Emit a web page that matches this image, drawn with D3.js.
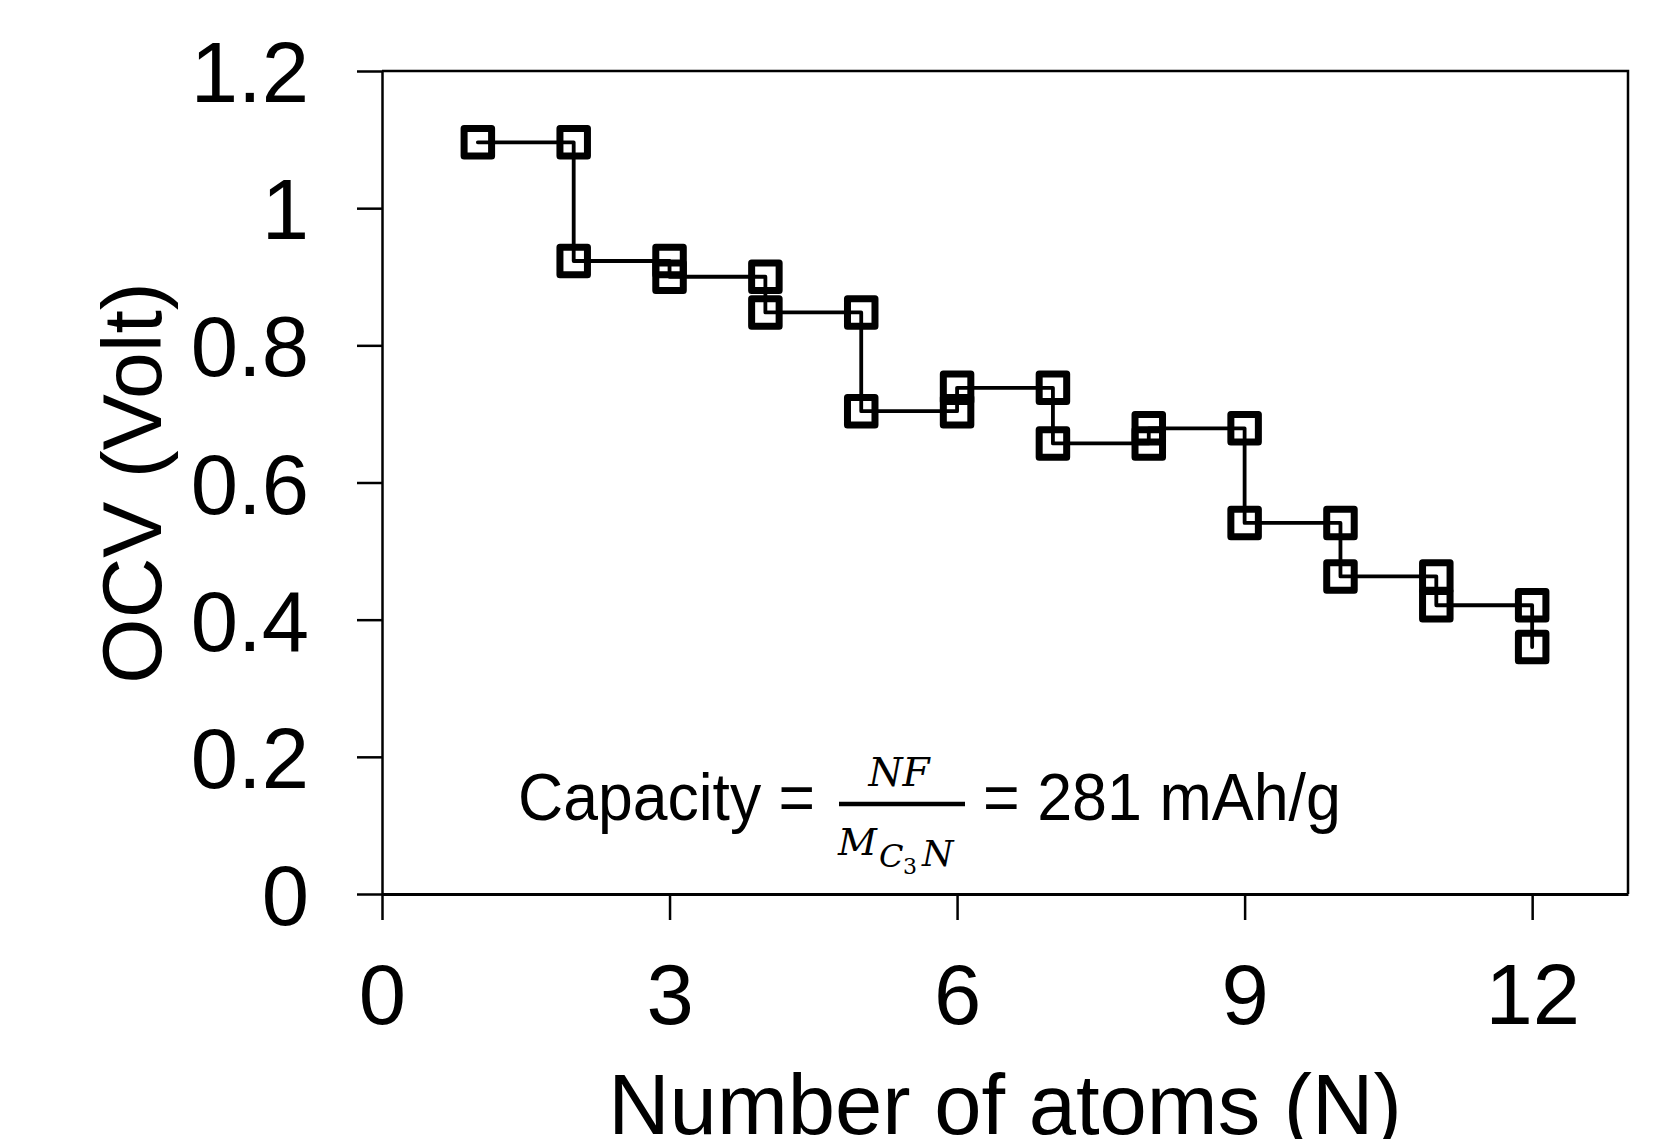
<!DOCTYPE html>
<html>
<head>
<meta charset="utf-8">
<script src="https://cdn.jsdelivr.net/npm/d3@7"></script>
<style>
  html, body { margin: 0; padding: 0; background: #fff; }
  svg { display: block; }
</style>
</head>
<body>
<div id="chart"></div>
<script>
// step data: each N has the voltage before and after the next atom is added
const atomsN = [1, 2, 2, 3, 3, 4, 4, 5, 5, 6, 6, 7, 7, 8, 8, 9, 9, 10, 10, 11, 11, 12, 12];
const ocv = [1.096, 1.096, 0.923, 0.923, 0.900, 0.900, 0.848, 0.848, 0.704, 0.704,
  0.738, 0.738, 0.657, 0.657, 0.679, 0.679, 0.541, 0.541, 0.463, 0.463, 0.421, 0.421, 0.360];

const xTicks = [0, 3, 6, 9, 12];
const yTicks = [0, 0.2, 0.4, 0.6, 0.8, 1, 1.2];
const xDomain = [0, 13];
const yDomain = [0, 1.2];

const width = 1669;
const height = 1139;
const margin = { top: 71, right: 41, bottom: 245, left: 382 };
const sans = 'Liberation Sans, Arial, sans-serif';
const mathFont = 'DejaVu Serif, serif';

const svg = d3.select('#chart')
  .append('svg')
  .attr('width', width)
  .attr('height', height)
  .attr('viewBox', `0 0 ${width} ${height}`);

const x = d3.scaleLinear()
  .domain(xDomain)
  .range([margin.left, width - margin.right]);

const y = d3.scaleLinear()
  .domain(yDomain)
  .range([height - margin.bottom, margin.top]);

// frame (top and right)
svg.append('path')
  .attr('d', `M${x(xDomain[0])},${y(yDomain[1])}H${x(xDomain[1])}V${y(yDomain[0])}`)
  .attr('fill', 'none')
  .attr('stroke', '#000')
  .attr('stroke-width', 2.5);

// x axis
const xAxis = svg.append('g')
  .attr('transform', `translate(0,${y(0)})`)
  .call(d3.axisBottom(x).tickValues(xTicks).tickSize(26).tickSizeOuter(0).tickFormat(d => d));

xAxis.select('.domain').attr('stroke-width', 3.2);
xAxis.selectAll('.tick line').attr('stroke-width', 2.5);
xAxis.selectAll('.tick text')
  .attr('y', 130)
  .attr('dy', 0)
  .attr('font-family', sans)
  .attr('font-size', 85)
  .attr('fill', '#000');

// y axis
const yAxis = svg.append('g')
  .attr('transform', `translate(${x(0)},0)`)
  .call(d3.axisLeft(y).tickValues(yTicks).tickSize(25).tickSizeOuter(0).tickFormat(d => d));

yAxis.select('.domain').attr('stroke-width', 2.5);
yAxis.selectAll('.tick line').attr('stroke-width', 2.5);
yAxis.selectAll('.tick text')
  .attr('x', -73)
  .attr('dy', '0.36em')
  .attr('font-family', sans)
  .attr('font-size', 85)
  .attr('fill', '#000');

svg.selectAll('.domain, .tick line').attr('stroke', '#000');

// axis titles (the x title runs off the bottom edge, as in the source figure)
svg.append('text')
  .attr('x', (x(xDomain[0]) + x(xDomain[1])) / 2)
  .attr('y', 1134)
  .attr('text-anchor', 'middle')
  .attr('font-family', sans)
  .attr('font-size', 85)
  .attr('fill', '#000')
  .text('Number of atoms (N)');

svg.append('text')
  .attr('transform', `translate(161,483) rotate(-90)`)
  .attr('text-anchor', 'middle')
  .attr('font-family', sans)
  .attr('font-size', 84)
  .attr('fill', '#000')
  .text('OCV (Volt)');

// step line
const points = atomsN.map((n, i) => ({ n, v: ocv[i] }));

svg.append('path')
  .datum(points)
  .attr('d', d3.line().x(d => x(d.n)).y(d => y(d.v)))
  .attr('fill', 'none')
  .attr('stroke', '#000')
  .attr('stroke-width', 3.8)
  .attr('stroke-linejoin', 'round')
  .attr('stroke-linecap', 'round');

// hollow square markers
const side = 27.5;
svg.append('g')
  .selectAll('rect')
  .data(points)
  .join('rect')
  .attr('x', d => x(d.n) - side / 2)
  .attr('y', d => y(d.v) - side / 2)
  .attr('width', side)
  .attr('height', side)
  .attr('fill', 'none')
  .attr('stroke', '#000')
  .attr('stroke-width', 7)
  .attr('stroke-linejoin', 'round');

// capacity formula
const formula = svg.append('g');

formula.append('text')
  .attr('x', 518)
  .attr('y', 820)
  .attr('font-family', sans)
  .attr('font-size', 67)
  .attr('textLength', 297)
  .attr('lengthAdjust', 'spacingAndGlyphs')
  .text('Capacity =');

formula.append('line')
  .attr('x1', 839)
  .attr('x2', 965)
  .attr('y1', 804)
  .attr('y2', 804)
  .attr('stroke', '#000')
  .attr('stroke-width', 4.5);

formula.append('text')
  .attr('x', 899)
  .attr('y', 786)
  .attr('text-anchor', 'middle')
  .attr('font-family', mathFont)
  .attr('font-style', 'italic')
  .attr('font-size', 39)
  .text('NF');

const denom = [
  { t: 'M', x: 838, y: 855, s: 38 },
  { t: 'C', x: 879, y: 867, s: 32 },
  { t: '3', x: 903, y: 874, s: 22 },
  { t: 'N', x: 922, y: 866, s: 36 }
];
formula.selectAll('.denom')
  .data(denom)
  .join('text')
  .attr('class', 'denom')
  .attr('x', d => d.x)
  .attr('y', d => d.y)
  .attr('font-family', mathFont)
  .attr('font-style', d => d.t === '3' ? 'normal' : 'italic')
  .attr('font-size', d => d.s)
  .text(d => d.t);

formula.append('text')
  .attr('x', 983)
  .attr('y', 820)
  .attr('font-family', sans)
  .attr('font-size', 67)
  .attr('textLength', 358)
  .attr('lengthAdjust', 'spacingAndGlyphs')
  .text('= 281 mAh/g');
</script>
</body>
</html>
